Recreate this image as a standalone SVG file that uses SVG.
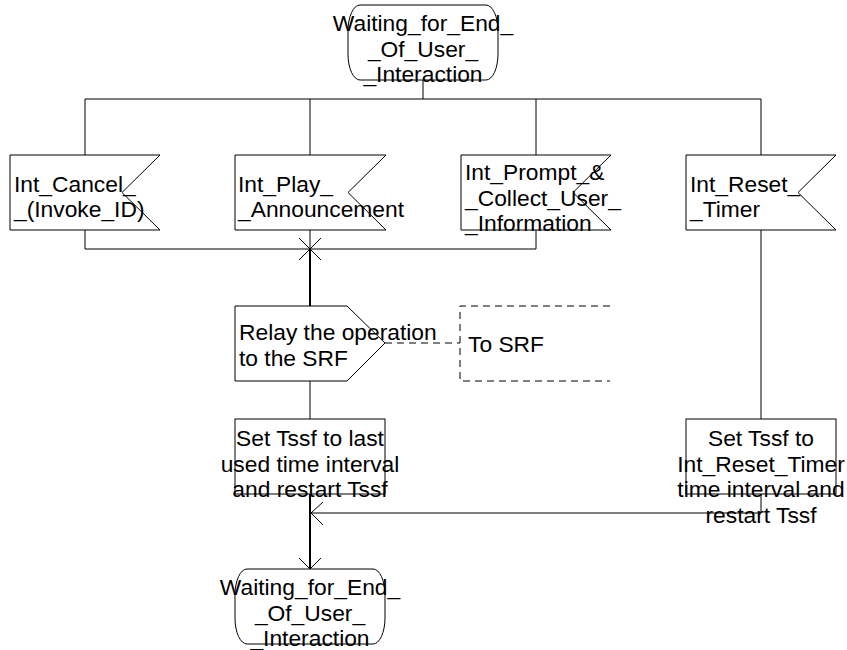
<svg xmlns="http://www.w3.org/2000/svg" width="847" height="650" viewBox="0 0 847 650">
<style>
.s{fill:#fff;stroke:#000;stroke-width:1}
.t{font-family:"Liberation Sans",Arial,sans-serif;font-size:22.8px;fill:#000}
.c{text-anchor:middle}
.ln{fill:none;stroke:#000;stroke-width:1}
.th{fill:none;stroke:#000;stroke-width:2}
.d{fill:none;stroke:#000;stroke-width:1;stroke-dasharray:7 5}
</style>
<g id="connectors">
<path class="ln" d="M423,80 V99 M85,99 H761 M85,99 V155 M310,99 V155 M536,99 V155 M761,99 V155"/>
<path class="ln" d="M85,230 V249 H536 V230 M310,230 V249"/>
<path class="th" d="M310,249 V306"/>
<path class="ln" d="M299,238 L321,260 M321,238 L299,260"/>
<path class="ln" d="M310,381 V419"/>
<path class="d" d="M385,343 H460"/>
<path class="ln" d="M761,230 V419"/>
<path class="ln" d="M761,494 V513 H311"/>
<path class="ln" d="M323,502 L311,513 L323,525"/>
<path class="th" d="M310,494 V569"/>
<path class="ln" d="M299,558 L310,569 L321,558"/>
</g>
<g id="state_top">
<rect class="s" x="348" y="5" width="150" height="75" rx="12" ry="26"/>
<text class="t c" x="423" y="31">Waiting_for_End_</text>
<text class="t c" x="423" y="56.5">_Of_User_</text>
<text class="t c" x="423" y="81.5">_Interaction</text>
</g>
<g id="sig_cancel">
<path class="s" d="M10,155 H160 L122,192.5 L160,230 H10 Z"/>
<text class="t" x="14" y="191.5">Int_Cancel_</text>
<text class="t" x="14" y="217">_(Invoke_ID)</text>
</g>
<g id="sig_play">
<path class="s" d="M235,155 H386 L348,192.5 L386,230 H235 Z"/>
<text class="t" x="238" y="191.5">Int_Play_</text>
<text class="t" x="238" y="217">_Announcement</text>
</g>
<g id="sig_prompt">
<path class="s" d="M461,155 H611 L573,192.5 L611,230 H461 Z"/>
<text class="t" x="465" y="180">Int_Prompt_&amp;</text>
<text class="t" x="465" y="205.5">_Collect_User_</text>
<text class="t" x="465" y="231">_Information</text>
</g>
<g id="sig_reset">
<path class="s" d="M686,155 H836 L798,192.5 L836,230 H686 Z"/>
<text class="t" x="690" y="191.5">Int_Reset_</text>
<text class="t" x="690" y="217">_Timer</text>
</g>
<g id="relay">
<path class="s" d="M235,306 H347 L385,343 L347,381 H235 Z"/>
<text class="t" x="239" y="340">Relay the operation</text>
<text class="t" x="239" y="366">to the SRF</text>
</g>
<g id="to_srf">
<path class="d" d="M610,306 H460 V381 H610"/>
<text class="t" x="468" y="352">To SRF</text>
</g>
<g id="set_last">
<rect class="s" x="235" y="419" width="150" height="75"/>
<text class="t c" x="310" y="446">Set Tssf to last</text>
<text class="t c" x="310" y="472">used time interval</text>
<text class="t c" x="310" y="497">and restart Tssf</text>
</g>
<g id="set_reset">
<rect class="s" x="686" y="419" width="150" height="75"/>
<text class="t c" x="761" y="446">Set Tssf to</text>
<text class="t c" x="761" y="472">Int_Reset_Timer</text>
<text class="t c" x="761" y="497">time interval and</text>
<text class="t c" x="761" y="523">restart Tssf</text>
</g>
<g id="state_bottom">
<rect class="s" x="235" y="569" width="150" height="75" rx="12" ry="26"/>
<text class="t c" x="310" y="595">Waiting_for_End_</text>
<text class="t c" x="310" y="620.5">_Of_User_</text>
<text class="t c" x="310" y="645.5">_Interaction</text>
</g>
</svg>
